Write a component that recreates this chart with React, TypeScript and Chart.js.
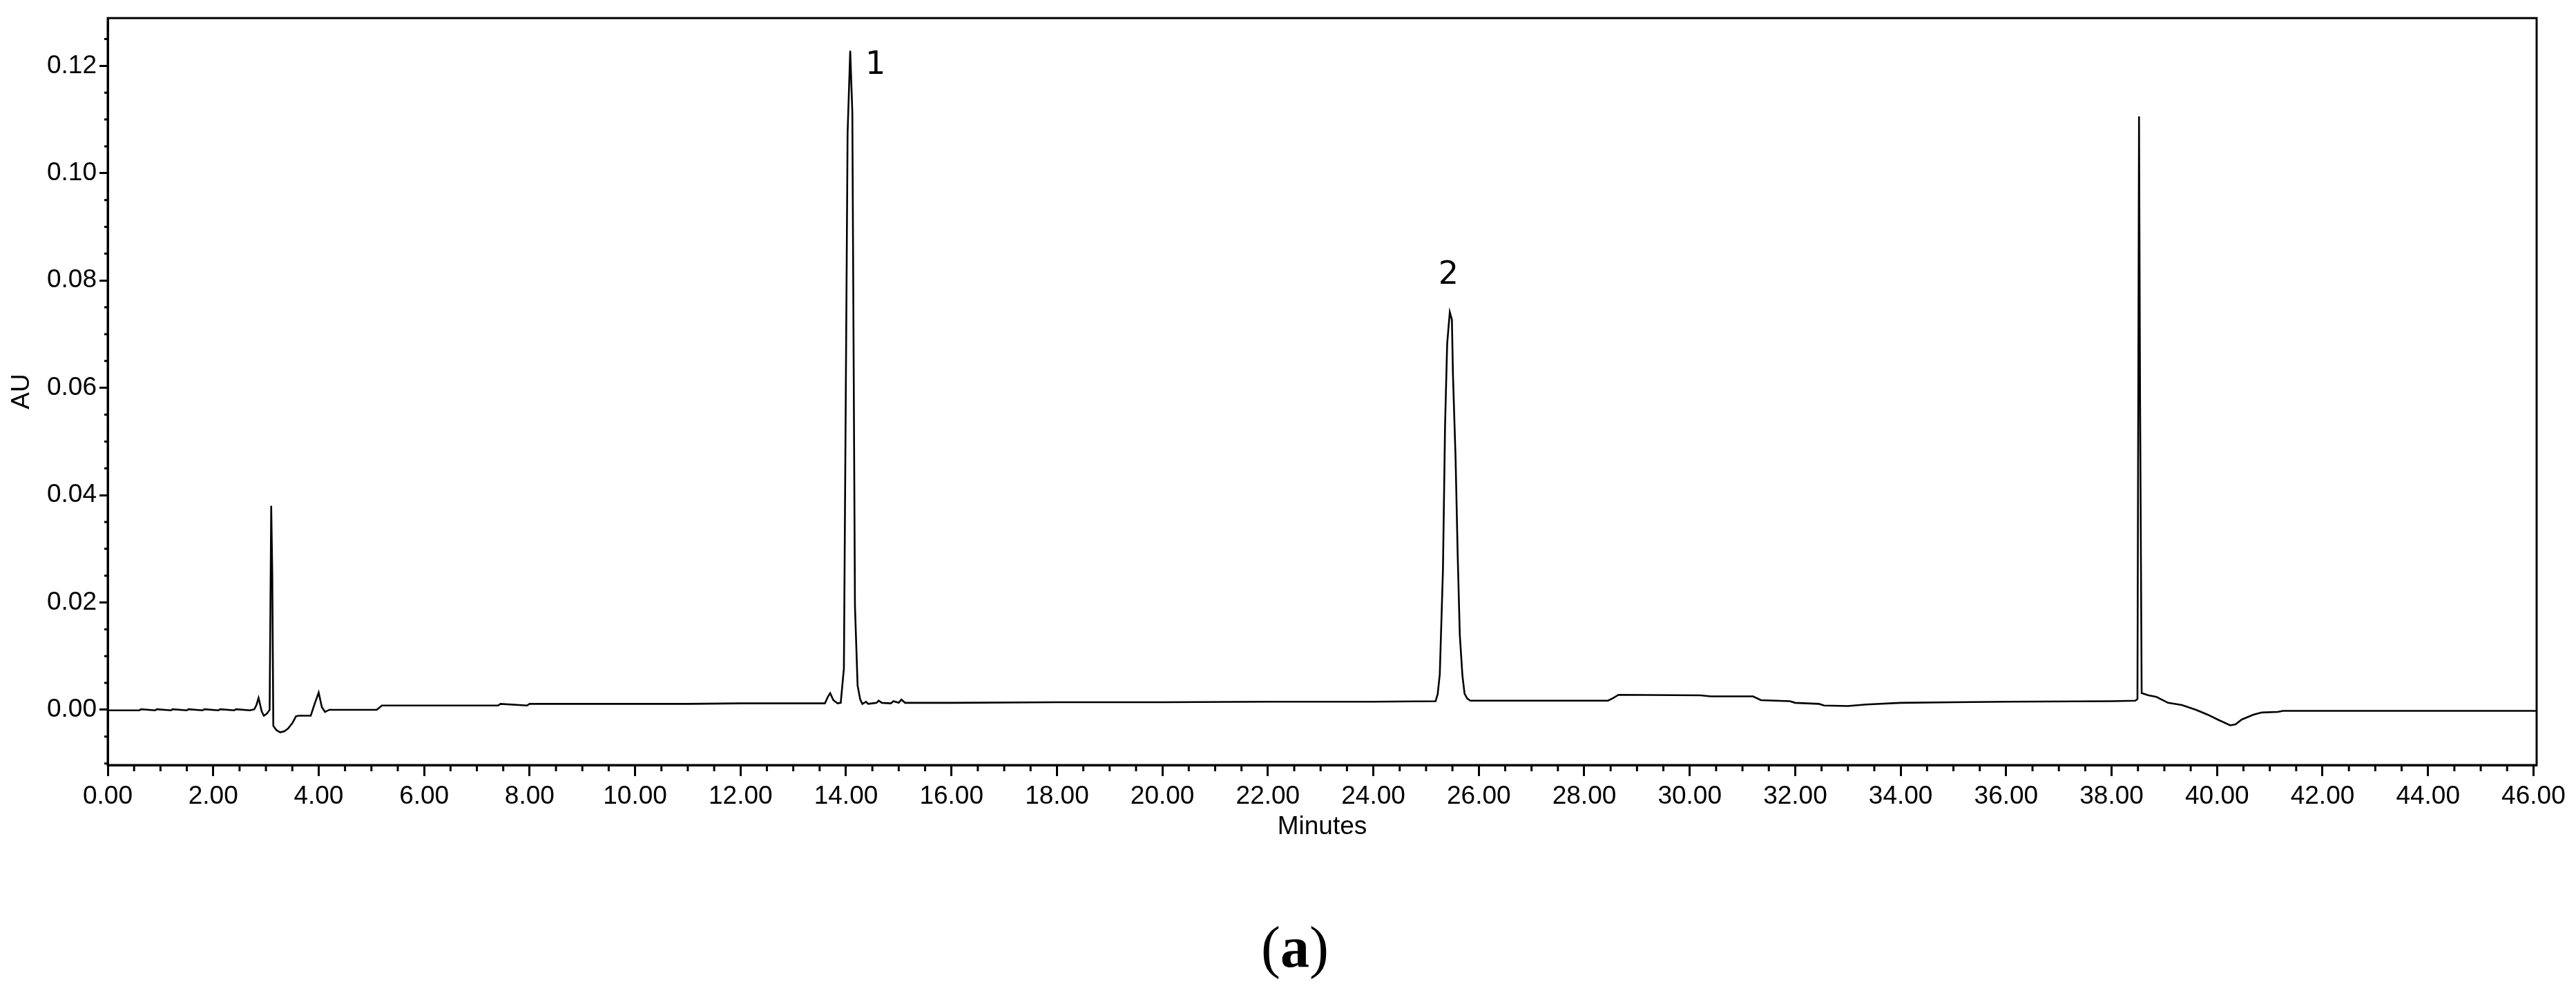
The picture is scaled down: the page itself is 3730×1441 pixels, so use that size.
import React, { useEffect, useRef } from "react";
import { Chart, registerables } from "chart.js";

Chart.register(...registerables);

// ---- data (retention time in minutes, absorbance in AU) ----
const times = [
  0.0, 0.3, 0.6, 0.63, 0.9, 0.93, 1.2, 1.23, 1.5, 1.53, 1.8, 1.83, 2.1, 2.13, 2.4, 2.43, 2.7, 2.78,
  2.82, 2.86, 2.92, 2.96, 3.02, 3.07, 3.1, 3.12, 3.14, 3.2, 3.27, 3.35, 3.42, 3.5, 3.57, 3.62,
  3.85, 3.92, 4.0, 4.06, 4.12, 4.2, 5.1, 5.2, 6.5, 7.4, 7.45, 7.95, 8.0, 9.0, 10.0, 11.0, 12.0,
  13.0, 13.6, 13.66, 13.7, 13.76, 13.84, 13.9, 13.96, 14.03, 14.08, 14.12, 14.17, 14.22, 14.27,
  14.31, 14.38, 14.42, 14.5, 14.58, 14.62, 14.68, 14.85, 14.9, 15.0, 15.05, 15.12, 16.0, 18.0,
  20.0, 22.0, 24.0, 25.18, 25.22, 25.26, 25.32, 25.36, 25.4, 25.45, 25.49, 25.51, 25.56, 25.6,
  25.64, 25.69, 25.73, 25.78, 25.84, 28.45, 28.55, 28.65, 30.2, 30.4, 31.2, 31.35, 31.9, 32.0,
  32.45, 32.55, 33.0, 33.35, 34.0, 35.0, 36.0, 38.0, 38.45, 38.49, 38.52, 38.54, 38.57, 38.7,
  38.85, 39.07, 39.33, 39.6, 39.82, 40.03, 40.25, 40.35, 40.47, 40.69, 40.85, 41.15, 41.25, 46.06,
];
const absorbance = [
  -0.0001, -0.0001, -0.0001, 0.0001, -0.0001, 0.0001, -0.0001, 0.0001, -0.0001, 0.0001, -0.0001,
  0.0001, -0.0001, 0.0001, -0.0001, 0.0001, -0.0001, 0.0001,
  0.0009, 0.0022, -0.0003, -0.0011, -0.0007, 0.0, 0.038, 0.0257, -0.003, -0.0038, -0.0042,
  -0.004, -0.0035, -0.0025, -0.0012, -0.0011,
  -0.0011, 0.001, 0.0032, 0.0005, -0.0004, 0.0, 0.0, 0.0008, 0.0008, 0.0008, 0.0011, 0.0008,
  0.0011, 0.0011, 0.0011, 0.0011, 0.0012,
  0.0012, 0.0012, 0.0025, 0.0031, 0.0018, 0.0012, 0.0013, 0.0077, 0.1074, 0.1228, 0.1113, 0.0193,
  0.0045, 0.0019,
  0.0011, 0.0015, 0.0011, 0.0012, 0.0013, 0.0017, 0.0013, 0.0012, 0.0016, 0.0013, 0.0019, 0.0013,
  0.0013, 0.0014,
  0.0014, 0.0015, 0.0015, 0.0016, 0.0029, 0.0066, 0.026, 0.0529, 0.0682, 0.0741, 0.0727, 0.0624,
  0.0467, 0.0287,
  0.0139, 0.0063, 0.003, 0.0021, 0.0017, 0.0017, 0.0022, 0.0028, 0.0027, 0.0025, 0.0025, 0.0018,
  0.0016, 0.0013,
  0.0011, 0.0008, 0.0007, 0.001, 0.0013, 0.0014, 0.0015, 0.0016, 0.0017, 0.002, 0.1106, 0.0575,
  0.0031, 0.0027,
  0.0024, 0.0013, 0.0009, 0.0, -0.0009, -0.0019, -0.0029, -0.0027, -0.0018, -0.0009, -0.0005,
  -0.0004, -0.0002, -0.0002,
];

const peakTimes = [14.08, 25.45];
const peakHeights = [0.1228, 0.0741];
const peakNames = ["1", "2"];

const xMin = 0;
const xMax = 46.06;
const xMajorStep = 2;
const xMinorStep = 0.5;
const yMin = -0.0103;
const yMax = 0.1289;
const yMajorStep = 0.02;
const yMinorStep = 0.005;

const xTitle = "Minutes";
const yTitle = "AU";

const TICK_FONT = { family: "'Liberation Sans', Arial, sans-serif", size: 37 };

const decorPlugin = {
  id: "decor",
  afterDraw(chart: any) {
    const { ctx, chartArea: a, scales } = chart;
    const x = scales.x;
    const y = scales.y;
    ctx.save();
    ctx.strokeStyle = "#000";
    ctx.lineWidth = 3;
    ctx.strokeRect(a.left, a.top, a.right - a.left, a.bottom - a.top);

    // minor ticks
    ctx.lineWidth = 3;
    ctx.beginPath();
    const nx = Math.floor((xMax - xMin) / xMinorStep + 1e-9);
    for (let i = 0; i <= nx; i++) {
      if (i % Math.round(xMajorStep / xMinorStep) === 0) continue;
      const px = x.getPixelForValue(xMin + i * xMinorStep);
      ctx.moveTo(px, a.bottom);
      ctx.lineTo(px, a.bottom + 9);
    }
    const k0 = Math.ceil(yMin / yMinorStep - 1e-9);
    const k1 = Math.floor(yMax / yMinorStep + 1e-9);
    for (let k = k0; k <= k1; k++) {
      if (k % Math.round(yMajorStep / yMinorStep) === 0) continue;
      const py = y.getPixelForValue(k * yMinorStep);
      ctx.moveTo(a.left - 5, py);
      ctx.lineTo(a.left, py);
    }
    ctx.stroke();

    // peak labels
    ctx.fillStyle = "#000";
    ctx.font = "46px 'DejaVu Sans', sans-serif";
    ctx.textBaseline = "alphabetic";
    peakNames.forEach((name, i) => {
      const px = x.getPixelForValue(peakTimes[i]);
      const py = y.getPixelForValue(peakHeights[i]);
      if (i === 0) {
        ctx.textAlign = "left";
        ctx.fillText(name, px + 22, py + 33);
      } else {
        ctx.textAlign = "center";
        ctx.fillText(name, px - 2, py - 41);
      }
    });
    ctx.restore();
  },
};

export default function App() {
  const ref = useRef<HTMLCanvasElement | null>(null);
  useEffect(() => {
    if (!ref.current) return;
    const chart = new Chart(ref.current, {
      type: "line",
      data: {
        datasets: [
          {
            data: times.map((t, i) => ({ x: t, y: absorbance[i] })),
            borderColor: "#000",
            borderWidth: 2.6,
            pointRadius: 0,
            tension: 0,
            fill: false,
          },
        ],
      },
      options: {
        animation: false,
        responsive: true,
        maintainAspectRatio: false,
        devicePixelRatio: 1,
        layout: { padding: { top: 26, right: 57, left: 0, bottom: 0 } },
        plugins: { legend: { display: false }, tooltip: { enabled: false } },
        scales: {
          x: {
            type: "linear",
            min: xMin,
            max: xMax,
            afterFit: (s: any) => {
              s.height = 192;
            },
            border: { display: true, color: "#000", width: 3 },
            grid: { drawOnChartArea: false, drawTicks: true, tickLength: 16, tickWidth: 3, tickColor: "#000" },
            ticks: {
              stepSize: xMajorStep,
              includeBounds: false,
              autoSkip: false,
              maxRotation: 0,
              padding: 8,
              color: "#000",
              font: TICK_FONT,
              callback: (v: any) => Number(v).toFixed(2),
            },
            title: { display: true, text: xTitle, color: "#000", font: TICK_FONT, padding: { top: 0, bottom: 80 } },
          },
          y: {
            type: "linear",
            min: yMin,
            max: yMax,
            afterFit: (s: any) => {
              s.width = 156;
            },
            border: { display: true, color: "#000", width: 3 },
            grid: { drawOnChartArea: false, drawTicks: true, tickLength: 12, tickWidth: 3, tickColor: "#000" },
            ticks: {
              stepSize: yMajorStep,
              includeBounds: false,
              autoSkip: false,
              padding: 4,
              color: "#000",
              font: TICK_FONT,
              callback: (v: any) => Number(v).toFixed(2),
            },
            title: { display: true, text: yTitle, color: "#000", font: TICK_FONT, padding: { top: 10, bottom: 0 } },
          },
        },
      },
      plugins: [decorPlugin],
    });
    return () => chart.destroy();
  }, []);

  return (
    <div style={{ position: "absolute", left: 0, top: 0, width: 3730, height: 1441, background: "#fff" }}>
      <div style={{ position: "absolute", left: 0, top: 0, width: 3730, height: 1300 }}>
        <canvas ref={ref} />
      </div>
      <div
        style={{
          position: "absolute",
          left: 0,
          top: 1330,
          width: 3730,
          boxSizing: "border-box",
          paddingLeft: 20,
          textAlign: "center",
          fontFamily: "'Liberation Serif', 'Times New Roman', serif",
          fontSize: 84,
          lineHeight: "84px",
          color: "#000",
        }}
      >
        (<b>a</b>)
      </div>
    </div>
  );
}
